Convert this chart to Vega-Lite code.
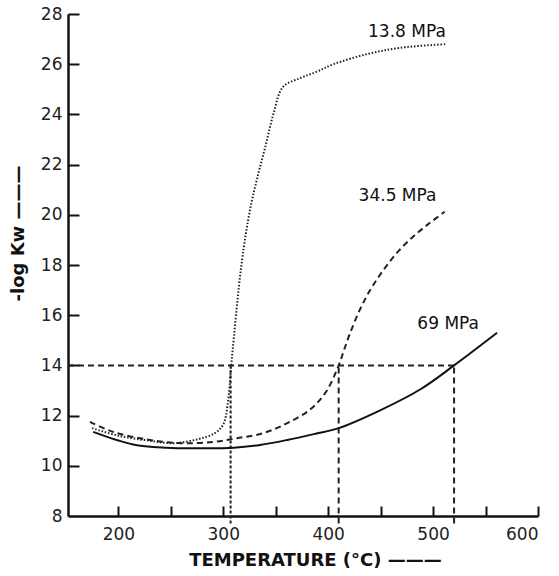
{
  "$schema": "https://vega.github.io/schema/vega-lite/v6.json",
  "width": 470,
  "height": 502,
  "autosize": "none",
  "padding": {"left": 68, "top": 14, "right": 21, "bottom": 60},
  "background": "white",
  "config": {"view": {"stroke": null}, "font": "DejaVu Sans"},
  "datasets": {
    "curves": [
      {"series": "13.8", "t": 175, "logk": 11.5},
      {"series": "13.8", "t": 200, "logk": 11.2},
      {"series": "13.8", "t": 230, "logk": 11.0},
      {"series": "13.8", "t": 252, "logk": 10.9},
      {"series": "13.8", "t": 275, "logk": 11.05},
      {"series": "13.8", "t": 292, "logk": 11.3},
      {"series": "13.8", "t": 300, "logk": 11.65},
      {"series": "13.8", "t": 304, "logk": 12.4},
      {"series": "13.8", "t": 308, "logk": 14.2},
      {"series": "13.8", "t": 317.6, "logk": 18.1},
      {"series": "13.8", "t": 325.5, "logk": 20.2},
      {"series": "13.8", "t": 332, "logk": 21.4},
      {"series": "13.8", "t": 340, "logk": 22.7},
      {"series": "13.8", "t": 348, "logk": 24.05},
      {"series": "13.8", "t": 357, "logk": 25.1},
      {"series": "13.8", "t": 373, "logk": 25.44},
      {"series": "13.8", "t": 389, "logk": 25.7},
      {"series": "13.8", "t": 405, "logk": 26.0},
      {"series": "13.8", "t": 437, "logk": 26.4},
      {"series": "13.8", "t": 468, "logk": 26.65},
      {"series": "13.8", "t": 513, "logk": 26.8},
      {"series": "34.5", "t": 173, "logk": 11.75},
      {"series": "34.5", "t": 195, "logk": 11.35},
      {"series": "34.5", "t": 227, "logk": 11.05},
      {"series": "34.5", "t": 260, "logk": 10.9},
      {"series": "34.5", "t": 290, "logk": 10.95},
      {"series": "34.5", "t": 313, "logk": 11.1},
      {"series": "34.5", "t": 338, "logk": 11.3},
      {"series": "34.5", "t": 361, "logk": 11.7},
      {"series": "34.5", "t": 383, "logk": 12.25},
      {"series": "34.5", "t": 398, "logk": 12.95},
      {"series": "34.5", "t": 410, "logk": 14.0},
      {"series": "34.5", "t": 415, "logk": 14.6},
      {"series": "34.5", "t": 421, "logk": 15.3},
      {"series": "34.5", "t": 430, "logk": 16.2},
      {"series": "34.5", "t": 440, "logk": 17.0},
      {"series": "34.5", "t": 453, "logk": 17.82},
      {"series": "34.5", "t": 467, "logk": 18.55},
      {"series": "34.5", "t": 482, "logk": 19.17},
      {"series": "34.5", "t": 497, "logk": 19.68},
      {"series": "34.5", "t": 511, "logk": 20.12},
      {"series": "69", "t": 176, "logk": 11.35},
      {"series": "69", "t": 214, "logk": 10.85},
      {"series": "69", "t": 246, "logk": 10.72},
      {"series": "69", "t": 275, "logk": 10.7},
      {"series": "69", "t": 310, "logk": 10.72},
      {"series": "69", "t": 335, "logk": 10.83},
      {"series": "69", "t": 361, "logk": 11.03},
      {"series": "69", "t": 388, "logk": 11.28},
      {"series": "69", "t": 410, "logk": 11.5},
      {"series": "69", "t": 449, "logk": 12.2},
      {"series": "69", "t": 488, "logk": 13.05},
      {"series": "69", "t": 520, "logk": 14.0},
      {"series": "69", "t": 561, "logk": 15.3}
    ],
    "guides": [
      {"guide": "h14", "t": 152, "logk": 14},
      {"guide": "h14", "t": 520, "logk": 14},
      {"guide": "v307", "t": 307, "logk": 7.7},
      {"guide": "v307", "t": 307, "logk": 14},
      {"guide": "v410", "t": 410, "logk": 7.7},
      {"guide": "v410", "t": 410, "logk": 14},
      {"guide": "v520", "t": 520, "logk": 7.7},
      {"guide": "v520", "t": 520, "logk": 14}
    ],
    "labels": [
      {"label": "13.8 MPa", "t": 438, "logk": 27.3},
      {"label": "34.5 MPa", "t": 429, "logk": 20.75},
      {"label": "69 MPa", "t": 485, "logk": 15.65}
    ]
  },
  "resolve": {"axis": {"x": "independent", "y": "independent"}},
  "layer": [
    {
      "encoding": {
        "x": {
          "field": "t", "type": "quantitative",
          "scale": {"domain": [152, 600], "nice": false, "zero": false},
          "axis": {
            "orient": "bottom",
            "title": "TEMPERATURE (°C) ———",
            "values": [200, 300, 400, 500, 600],
            "grid": false, "ticks": false, "tickSize": 0,
            "domainColor": "#111", "domainWidth": 2.5,
            "labelFontSize": 17, "labelColor": "#222", "labelPadding": 10,
            "labelFont": "DejaVu Sans",
            "titleFontSize": 18, "titleFontWeight": "bold", "titleColor": "#111",
            "titleFont": "DejaVu Sans", "titleX": 247, "titleY": 35, "titleBaseline": "top"
          }
        },
        "y": {
          "field": "logk", "type": "quantitative",
          "scale": {"domain": [8, 28], "nice": false, "zero": false},
          "axis": {
            "orient": "left",
            "title": "-log Kw ———",
            "values": [8, 10, 12, 14, 16, 18, 20, 22, 24, 26, 28],
            "grid": false, "ticks": false, "tickSize": 0,
            "domainColor": "#111", "domainWidth": 2.5,
            "labelFontSize": 17, "labelColor": "#222", "labelPadding": 6,
            "labelFont": "DejaVu Sans",
            "titleFontSize": 18, "titleFontWeight": "bold", "titleColor": "#111",
            "titleFont": "DejaVu Sans", "titleX": -50, "titleY": 219, "titleAngle": -90,
            "titleAlign": "center", "titleBaseline": "middle"
          }
        }
      },
      "layer": [
        {
          "data": {"name": "guides"},
          "transform": [{"filter": "datum.guide == 'v307'"}],
          "mark": {"type": "line", "color": "#222", "strokeWidth": 2, "strokeDash": [3, 2], "clip": false},
          "encoding": {"detail": {"field": "guide"}}
        },
        {
          "data": {"name": "guides"},
          "transform": [{"filter": "datum.guide != 'v307'"}],
          "mark": {"type": "line", "color": "#222", "strokeWidth": 2, "strokeDash": [6, 4], "clip": false},
          "encoding": {"detail": {"field": "guide"}}
        },
        {
          "data": {"name": "curves"},
          "transform": [{"filter": "datum.series == '13.8'"}],
          "mark": {"type": "line", "color": "#222", "strokeWidth": 2, "strokeDash": [1.5, 1.8], "interpolate": "catmull-rom"},
          "encoding": {}
        },
        {
          "data": {"name": "curves"},
          "transform": [{"filter": "datum.series == '34.5'"}],
          "mark": {"type": "line", "color": "#222", "strokeWidth": 2, "strokeDash": [6, 4], "interpolate": "catmull-rom"},
          "encoding": {}
        },
        {
          "data": {"name": "curves"},
          "transform": [{"filter": "datum.series == '69'"}],
          "mark": {"type": "line", "color": "#111", "strokeWidth": 2, "interpolate": "catmull-rom"},
          "encoding": {}
        }
      ]
    },
    {
      "data": {"name": "labels"},
      "mark": {"type": "text", "align": "left", "baseline": "middle", "fontSize": 17, "color": "#111", "font": "DejaVu Sans"},
      "encoding": {
        "text": {"field": "label"},
        "x": {
          "field": "t", "type": "quantitative",
          "scale": {"domain": [152, 600], "nice": false, "zero": false},
          "axis": {
            "orient": "top", "offset": -502,
            "title": null, "labels": false, "domain": false, "grid": false,
            "values": [200, 250, 300, 350, 400, 450, 500, 550, 600],
            "ticks": true, "tickSize": 10, "tickWidth": 2, "tickColor": "#111"
          }
        },
        "y": {
          "field": "logk", "type": "quantitative",
          "scale": {"domain": [8, 28], "nice": false, "zero": false},
          "axis": {
            "orient": "right", "offset": -470,
            "title": null, "labels": false, "domain": false, "grid": false,
            "values": [10, 12, 14, 16, 18, 20, 22, 24, 26, 28],
            "ticks": true, "tickSize": 11, "tickWidth": 2, "tickColor": "#111"
          }
        }
      }
    }
  ]
}
